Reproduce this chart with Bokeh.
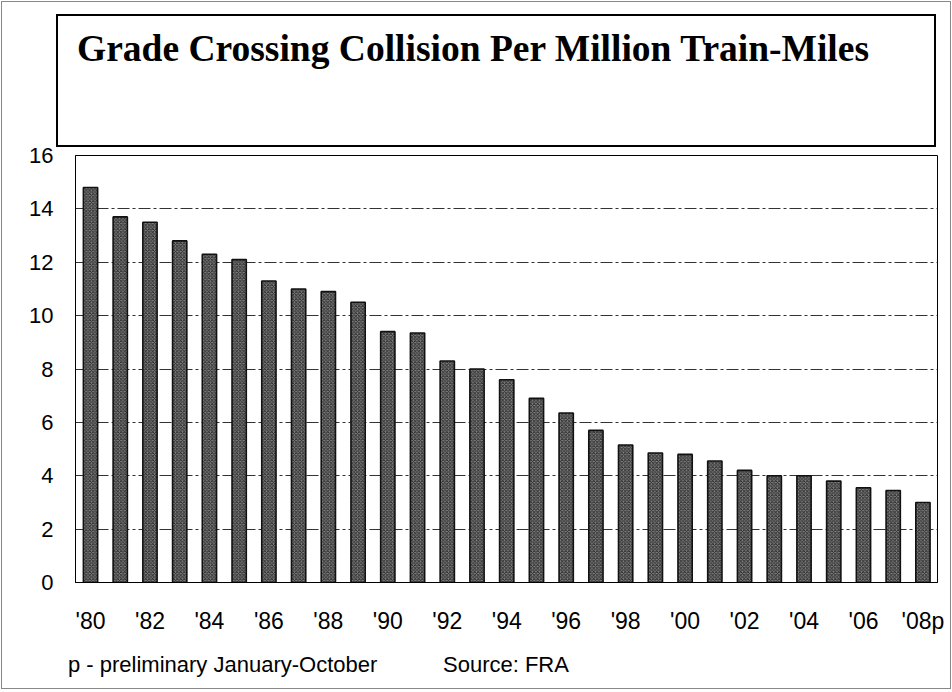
from bokeh.plotting import figure
from bokeh.models import Div, FixedTicker, ColumnDataSource
from bokeh.layouts import column
from bokeh.embed import file_html
from bokeh.resources import INLINE

years = list(range(1980, 2009))
rates = [14.8, 13.7, 13.5, 12.8, 12.3, 12.1, 11.3, 11.0, 10.9, 10.5,
         9.4, 9.35, 8.3, 8.0, 7.6, 6.9, 6.35, 5.7, 5.15, 4.85,
         4.8, 4.55, 4.2, 4.0, 4.0, 3.8, 3.55, 3.45, 3.0]
tick_years = list(range(1980, 2009, 2))
tick_labels = ["'80", "'82", "'84", "'86", "'88", "'90", "'92", "'94",
               "'96", "'98", "'00", "'02", "'04", "'06", "'08p"]
y_ticks = [0, 2, 4, 6, 8, 10, 12, 14, 16]
title_text = "Grade Crossing Collision Per Million Train-Miles"
note_text = "p - preliminary January-October"
source_text = "Source: FRA"

title_div = Div(
    text=f'<div style="font-family: \'Liberation Serif\', serif; font-weight: bold; '
         f'font-size: 37.5px; line-height: 1; padding: 14px 0 0 19px; white-space: nowrap; color: black;">{title_text}</div>',
    width=880, height=133, margin=(14, 0, -8, 56),
    styles={"border": "2px solid black", "box-sizing": "border-box", "background": "white"},
)

p = figure(width=952, height=500, output_backend="svg", toolbar_location=None,
           x_range=(1979.495, 2008.49), y_range=(0, 16),
           min_border_left=75, min_border_right=15, min_border_top=16, min_border_bottom=57,
           background_fill_color="white", border_fill_color=None)
p.outline_line_color = "black"
p.outline_line_width = 1

src = ColumnDataSource(dict(x=years, top=rates))
p.vbar(x="x", top="top", width=0.48, bottom=0, source=src,
       fill_color="#808080", line_color="#111111", line_width=1.6,
       hatch_pattern="diagonal_cross", hatch_color="#262626", hatch_scale=3.5, hatch_weight=0.9)

p.xgrid.grid_line_color = None
p.ygrid.grid_line_color = "#333333"
p.ygrid.grid_line_dash = "12 3 3 3"
p.ygrid.grid_line_width = 1
p.ygrid.level = "underlay"

p.xaxis.ticker = FixedTicker(ticks=tick_years)
p.xaxis.major_label_overrides = {y: l for y, l in zip(tick_years, tick_labels)}
p.yaxis.ticker = FixedTicker(ticks=y_ticks)
for ax in (p.xaxis, p.yaxis):
    ax.axis_line_color = "black"
    ax.major_tick_line_color = None
    ax.minor_tick_line_color = None
    ax.major_tick_out = 0
    ax.major_tick_in = 0
    ax.minor_tick_out = 0
    ax.major_label_text_font = "Liberation Sans"
    ax.major_label_text_color = "black"
p.xaxis.major_label_text_font_size = "23px"
p.yaxis.major_label_text_font_size = "22px"
p.xaxis.major_label_standoff = 25
p.yaxis.major_label_standoff = 22

span_style = ("position: absolute; top: 15px; font-family: 'Liberation Sans', sans-serif; "
              "font-size: 22px; line-height: 22px; white-space: nowrap; color: black;")
foot_div = Div(
    text=f'<div style="position: relative; width: 952px; height: 51px;">'
         f'<span style="{span_style} left: 68px;">{note_text}</span>'
         f'<span style="{span_style} left: 443px;">{source_text}</span></div>',
    width=952, height=51, margin=(0, 0, 0, 0),
)

layout = column(title_div, p, foot_div, spacing=0,
                styles={"outline": "1px solid #888", "outline-offset": "-2px", "background": "white"})

open("out.html", "w").write(file_html(layout, INLINE))
